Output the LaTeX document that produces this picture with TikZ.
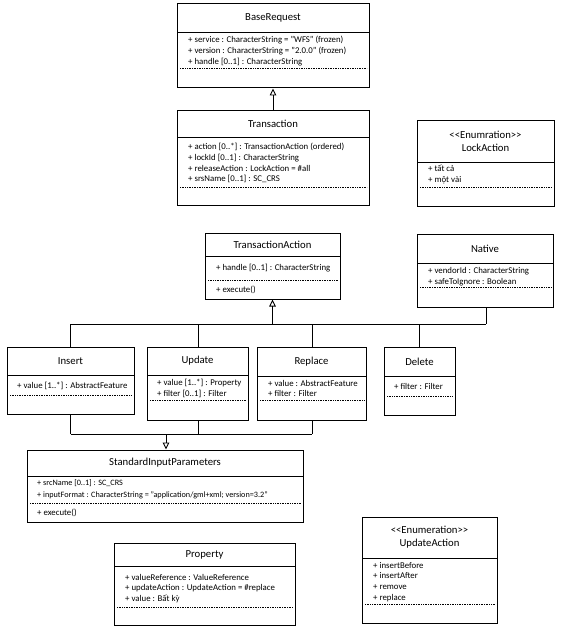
\documentclass[tikz,border=0pt]{standalone}
\usepackage{fontspec}
\setmainfont{Carlito}
\usetikzlibrary{arrows.meta,fit}
\tikzset{
  x=1pt,y=-1pt,
  clsbox/.style={draw, line width=1pt, inner sep=0pt, fit={#1}},
  divline/.style={line width=0.9pt},
  dotline/.style={line width=0.7pt, dash pattern=on 1pt off 0.7pt},
  ttl/.style={font=\fontsize{10.7}{13}\selectfont, inner sep=0pt, align=center},
  attr/.style={font=\fontsize{8.8}{10.8}\selectfont, inner sep=0pt, align=left, anchor=west},
  attrsm/.style={attr, font=\fontsize{8.2}{11.5}\selectfont},
  conn/.style={line width=0.9pt},
  gen/.style={line width=0.9pt, -{Triangle[open, length=7pt, width=6.5pt]}},
}
\newcommand\umlcls[7]{%
  \node[clsbox={(#2,#3)(#4,#5)}] (#1) {};
  \draw[divline] (#2,#6) -- (#4,#6);
  \draw[dotline] ({#2+3},#7) -- ({#4-2},#7);
}
\begin{document}
\begin{tikzpicture}
\useasboundingbox (0,0) rectangle (575,628);

% BaseRequest
\umlcls{base}{177}{4}{369}{88}{32}{68}
\node[ttl] (base-t) at (273,18) {BaseRequest};
\node[attr] (base-a) at (188,51) {+ service : CharacterString = "WFS" (frozen)\\+ version : CharacterString = "2.0.0" (frozen)\\+ handle [0..1] : CharacterString};

% Transaction
\umlcls{trans}{177}{111}{369}{206}{137}{187}
\node[ttl] (trans-t) at (273,124) {Transaction};
\node[attr] (trans-a) at (188,163) {+ action [0..*] : TransactionAction (ordered)\\+ lockId [0..1] : CharacterString\\+ releaseAction : LockAction = \#all\\+ srsName [0..1] : SC\_CRS};

% LockAction
\umlcls{lock}{417}{121}{554}{207}{162}{187}
\node[ttl] (lock-t) at (485.5,141.5) {<\kern0pt<Enumration>\kern0pt>\\LockAction};
\node[attr] (lock-a) at (428,174.5) {+ tất cả\\+ một vài};

% TransactionAction
\umlcls{ta}{205}{233}{340}{299}{256}{280}
\node[ttl] (ta-t) at (272.5,244.5) {TransactionAction};
\node[attr] (ta-a) at (216,268.5) {+ handle [0..1] : CharacterString};
\node[attr] (ta-o) at (216,290) {+ execute()};

% Native
\umlcls{nat}{417}{234}{553}{307}{263}{287}
\node[ttl] (nat-t) at (485,248.5) {Native};
\node[attr] (nat-a) at (428,276.5) {+ vendorId : CharacterString\\+ safeToIgnore : Boolean};

% Insert
\umlcls{ins}{7}{347}{134}{414}{375}{395}
\node[ttl] (ins-t) at (70.5,361) {Insert};
\node[attr] (ins-a) at (17,386) {+ value [1..*] : AbstractFeature};

% Update
\umlcls{upd}{147}{347}{248}{420}{375}{400}
\node[ttl] (upd-t) at (197.5,361) {Update};
\node[attr] (upd-a) at (157,388.5) {+ value [1..*] : Property\\+ filter [0..1] : Filter};

% Replace
\umlcls{rep}{257}{347}{366}{420}{376}{400}
\node[ttl] (rep-t) at (311.5,361.5) {Replace};
\node[attr] (rep-a) at (268,388.5) {+ value : AbstractFeature\\+ filter : Filter};

% Delete
\umlcls{del}{384}{347}{455}{415}{376}{396}
\node[ttl] (del-t) at (419.5,361.5) {Delete};
\node[attr] (del-a) at (394,386) {+ filter : Filter};

% StandardInputParameters
\umlcls{sip}{27}{450}{303}{522}{476}{503}
\node[ttl] (sip-t) at (165,463) {StandardInputParameters};
\node[attrsm] (sip-a) at (37,489) {+ srcName [0..1] : SC\_CRS\\+ inputFormat : CharacterString = "application/gml+xml; version=3.2"};
\node[attr] (sip-o) at (37,512.5) {+ execute()};

% Property
\umlcls{prop}{114}{543}{295}{625}{566}{607}
\node[ttl] (prop-t) at (204.5,554.5) {Property};
\node[attr] (prop-a) at (125,588.5) {+ valueReference : ValueReference\\+ updateAction : UpdateAction = \#replace\\+ value : Bất kỳ};

% UpdateAction
\umlcls{ua}{362}{517}{497}{623}{558}{604}
\node[ttl] (ua-t) at (429.5,537.5) {<\kern0pt<Enumeration>\kern0pt>\\UpdateAction};
\node[attr] (ua-a) at (373,582) {+ insertBefore\\+ insertAfter\\+ remove\\+ replace};

% Connectors
\draw[gen] (trans.north -| base.south) -- (base.south);

\coordinate (j1) at (272.5,324);
\draw[gen] (j1) -- (ta.south -| j1);
\draw[conn] (ins.north |- j1) -- ([xshift=1pt]nat.south |- j1);
\draw[conn] (ins.north) -- (ins.north |- j1);
\draw[conn] ([xshift=0.5pt]upd.north) -- ([xshift=0.5pt]upd.north |- j1);
\draw[conn] ([xshift=0.5pt]rep.north) -- ([xshift=0.5pt]rep.north |- j1);
\draw[conn] ([xshift=-0.5pt]del.north) -- ([xshift=-0.5pt]del.north |- j1);
\draw[conn] ([xshift=1pt]nat.south) -- ([xshift=1pt]nat.south |- j1);

\coordinate (j2) at (166,434);
\draw[conn] (ins.south) -- (ins.south |- j2);
\draw[conn] ([xshift=0.5pt]upd.south) -- ([xshift=0.5pt]upd.south |- j2);
\draw[conn] ([xshift=0.5pt]rep.south) -- ([xshift=0.5pt]rep.south |- j2);
\draw[conn] (ins.south |- j2) -- ([xshift=0.5pt]rep.south |- j2);
\draw[gen] (j2) -- (sip.north -| j2);
\end{tikzpicture}
\end{document}
